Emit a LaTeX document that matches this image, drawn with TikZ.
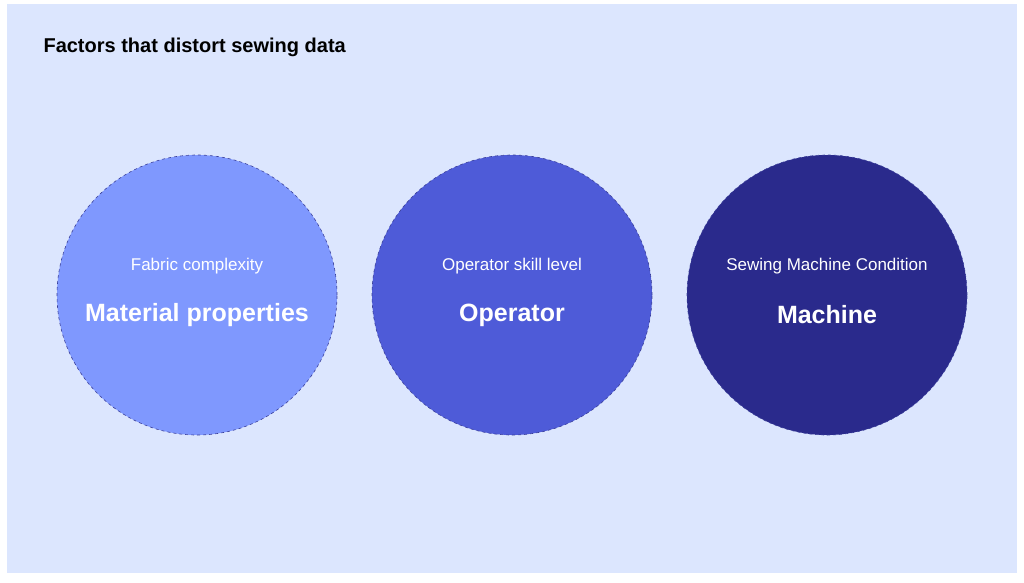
\documentclass[tikz,border=0pt]{standalone}
\usepackage{fontspec}
\setmainfont{Liberation Sans}
\definecolor{bg}{HTML}{DCE6FE}
\definecolor{cA}{HTML}{7F98FE}
\definecolor{cB}{HTML}{4E5BD8}
\definecolor{cC}{HTML}{2A2A8C}
\definecolor{edge}{HTML}{3A3F9A}
\begin{document}
\begin{tikzpicture}[x=1pt,y=-1pt,
  factor/.style={circle,minimum size=280pt,inner sep=0pt,draw=edge,dashed,line width=0.6pt},
  head/.style={text=white,font=\fontsize{25}{30}\selectfont\bfseries},
  sub/.style={text=white,font=\fontsize{17}{20}\selectfont}]
\useasboundingbox (0,0) rectangle (1024,582);
\fill[white] (0,0) rectangle (1024,582);
\fill[bg] (7,4) rectangle (1017,573);
\node[anchor=west,font=\fontsize{20}{24}\selectfont\bfseries] (title) at (40,47) {Factors that distort sewing data};
\node[factor,fill=cA] (c1) at (197,295) {};
\node[factor,fill=cB] (c2) at (512,295) {};
\node[factor,fill=cC] (c3) at (827,295) {};
\foreach \c/\h/\s in {c1/Material properties/Fabric complexity,c2/Operator/Operator skill level,c3/Machine/Sewing Machine Condition}{
  \node[head] (\c h) at ([yshift=-20pt]\c.center) {\h};
  \node[sub] (\c s) at ([yshift=29pt]\c.center) {\s};
}
\end{tikzpicture}
\end{document}
